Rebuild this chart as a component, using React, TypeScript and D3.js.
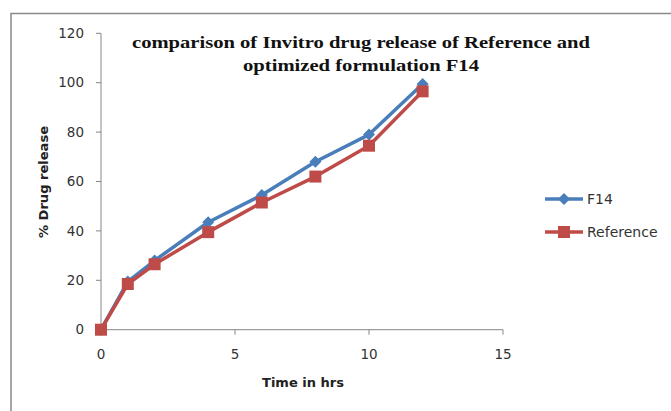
import React from "react";
import * as d3 from "d3";

// Dissolution time points (hours)
const hours = [0, 1, 2, 4, 6, 8, 10, 12];
// % drug released
const f14Values = [0, 19.5, 28, 43.5, 54.5, 68, 79, 99.5];
const referenceValues = [0, 18.5, 26.5, 39.5, 51.5, 62, 74.5, 96.5];

const xTicks = [0, 5, 10, 15];
const yTicks = [0, 20, 40, 60, 80, 100, 120];

const titleLines = [
  "comparison of Invitro drug release of Reference and",
  "optimized formulation F14",
];

const seriesNames = ["F14", "Reference"];
const seriesColors = ["#4a7ebb", "#be4b48"];

const W = 671;
const H = 411;

export default function App() {
  const x = d3.scaleLinear().domain([0, 15]).range([101, 503]);
  const y = d3.scaleLinear().domain([0, 120]).range([329.7, 33.3]);

  const line = d3
    .line<[number, number]>()
    .x((d) => x(d[0]))
    .y((d) => y(d[1]));

  const f14 = hours.map((h, i) => [h, f14Values[i]] as [number, number]);
  const ref = hours.map((h, i) => [h, referenceValues[i]] as [number, number]);

  const diamond = (cx: number, cy: number, r: number) =>
    `M${cx},${cy - r}L${cx + r},${cy}L${cx},${cy + r}L${cx - r},${cy}Z`;

  const axisColor = "#868686";
  const tickFont = "'DejaVu Sans', Verdana, sans-serif";

  return (
    <svg
      width={W}
      height={H}
      style={{ position: "absolute", left: 0, top: 0, background: "#fff" }}
    >
      {/* chart frame */}
      <rect x={11} y={13.5} width={W + 10} height={H + 10} fill="#fff" stroke="#8a8a8a" strokeWidth={1.5} />

      {/* axes */}
      <line x1={x(0)} x2={x(0)} y1={y(120)} y2={y(0)} stroke={axisColor} strokeWidth={1} />
      <line x1={x(0)} x2={x(15)} y1={y(0)} y2={y(0)} stroke={axisColor} strokeWidth={1} />
      {yTicks.map((t) => (
        <g key={"y" + t}>
          <line x1={x(0) - 5} x2={x(0)} y1={y(t)} y2={y(t)} stroke={axisColor} />
          <text
            x={84}
            y={y(t)}
            dy="0.35em"
            textAnchor="end"
            fontSize={13.5}
            fontFamily={tickFont}
            fill="#333"
          >
            {t}
          </text>
        </g>
      ))}
      {xTicks.map((t) => (
        <g key={"x" + t}>
          <line x1={x(t)} x2={x(t)} y1={y(0)} y2={y(0) + 5} stroke={axisColor} />
          <text
            x={x(t)}
            y={354}
            dy="0.35em"
            textAnchor="middle"
            fontSize={13.5}
            fontFamily={tickFont}
            fill="#333"
          >
            {t}
          </text>
        </g>
      ))}

      {/* axis titles */}
      <text
        x={303}
        y={387}
        textAnchor="middle"
        fontSize={13}
        fontWeight="bold"
        fontFamily={tickFont}
        fill="#222"
        textLength={82}
        lengthAdjust="spacingAndGlyphs"
      >
        Time in hrs
      </text>
      <text
        transform={`translate(48,182) rotate(-90)`}
        textAnchor="middle"
        fontSize={13}
        fontWeight="bold"
        fontFamily={tickFont}
        fill="#222"
        textLength={112}
        lengthAdjust="spacingAndGlyphs"
      >
        % Drug release
      </text>

      {/* chart title */}
      {titleLines.map((t, i) => (
        <text
          key={t}
          x={361}
          y={48 + i * 23}
          textAnchor="middle"
          fontSize={17}
          fontWeight="bold"
          fontFamily="'Liberation Serif', 'DejaVu Serif', serif"
          fill="#111"
          textLength={i === 0 ? 458 : 236}
          lengthAdjust="spacingAndGlyphs"
        >
          {t}
        </text>
      ))}

      {/* series */}
      <path d={line(f14) ?? ""} fill="none" stroke={seriesColors[0]} strokeWidth={3.5} strokeLinejoin="round" />
      {f14.map((d, i) => (
        <path key={"f" + i} d={diamond(x(d[0]), y(d[1]), 6)} fill={seriesColors[0]} />
      ))}
      <path d={line(ref) ?? ""} fill="none" stroke={seriesColors[1]} strokeWidth={3.5} strokeLinejoin="round" />
      {ref.map((d, i) => (
        <rect key={"r" + i} x={x(d[0]) - 6} y={y(d[1]) - 6} width={12} height={12} fill={seriesColors[1]} />
      ))}

      {/* legend */}
      {seriesNames.map((name, i) => {
        const ly = 199 + i * 33;
        return (
          <g key={name}>
            <line x1={545} x2={583} y1={ly} y2={ly} stroke={seriesColors[i]} strokeWidth={3.5} />
            {i === 0 ? (
              <path d={diamond(564, ly, 6)} fill={seriesColors[i]} />
            ) : (
              <rect x={558} y={ly - 6} width={12} height={12} fill={seriesColors[i]} />
            )}
            <text x={587} y={ly} dy="0.35em" fontSize={14} fontFamily={tickFont} fill="#333">
              {name}
            </text>
          </g>
        );
      })}
    </svg>
  );
}
